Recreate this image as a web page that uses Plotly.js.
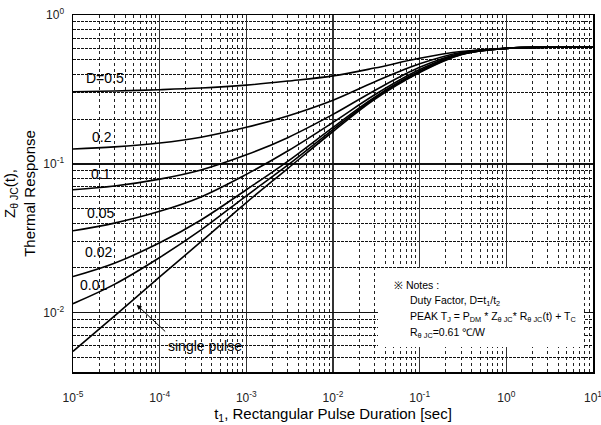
<!DOCTYPE html>
<html>
<head>
<meta charset="utf-8">
<script src="https://cdn.plot.ly/plotly-3.0.1.min.js"></script>
<style>html,body{margin:0;padding:0;background:#fff;}#chart{width:601px;height:425px;}</style>
</head>
<body>
<div id="chart"></div>
<script>
// pulse duration t1 [sec]
const t1 = [1e-5, 3e-5, 1e-4, 3e-4, 1e-3, 3e-3, 1e-2, 3e-2, 1e-1, 3e-1, 1, 3, 10];
// Z_thetaJC(t) for each duty factor
const zD050 = [0.305, 0.309, 0.315, 0.323, 0.338, 0.360, 0.390, 0.440, 0.512, 0.568, 0.598, 0.607, 0.61];
const zD020 = [0.126, 0.130, 0.138, 0.151, 0.176, 0.210, 0.268, 0.355, 0.470, 0.560, 0.598, 0.607, 0.61];
const zD010 = [0.067, 0.071, 0.079, 0.091, 0.115, 0.150, 0.215, 0.310, 0.445, 0.553, 0.597, 0.607, 0.61];
const zD005 = [0.0355, 0.040, 0.048, 0.060, 0.085, 0.122, 0.190, 0.290, 0.430, 0.548, 0.597, 0.607, 0.61];
const zD002 = [0.0175, 0.0215, 0.0295, 0.042, 0.067, 0.104, 0.176, 0.280, 0.420, 0.545, 0.597, 0.607, 0.61];
const zD001 = [0.0115, 0.0155, 0.0235, 0.036, 0.061, 0.098, 0.170, 0.275, 0.415, 0.543, 0.597, 0.607, 0.61];
const zSingle = [0.0055, 0.0095, 0.0174, 0.030, 0.055, 0.093, 0.165, 0.270, 0.410, 0.540, 0.597, 0.607, 0.61];

const seriesNames = ["D=0.5", "0.2", "0.1", "0.05", "0.02", "0.01", "single pulse"];
const seriesData = [zD050, zD020, zD010, zD005, zD002, zD001, zSingle];
// label anchor points [t, Z]
const labelT = [2.34e-5, 2.16e-5, 2.1e-5, 2.05e-5, 1.97e-5, 1.72e-5, 3.33e-4];
const labelZ = [0.378, 0.151, 0.0857, 0.0467, 0.0254, 0.0154, 0.00594];

// tick labels
const xTickVals = [1e-5, 1e-4, 1e-3, 1e-2, 1e-1, 1, 10];
const xTickText = ["10<sup>-5</sup>", "10<sup>-4</sup>", "10<sup>-3</sup>", "10<sup>-2</sup>", "10<sup>-1</sup>", "10<sup>0</sup>", "10<sup>1</sup>"];
const yTickVals = [1e-2, 1e-1, 1];
const yTickText = ["10<sup>-2</sup>", "10<sup>-1</sup>", "10<sup>0</sup>"];

const notes = [
  "\u203B Notes :",
  "Duty Factor, D=t<sub>1</sub>/t<sub>2</sub>",
  "PEAK T<sub>J</sub> = P<sub>DM</sub> * Z<sub>\u03B8 JC</sub>* R<sub>\u03B8 JC</sub>(t) + T<sub>C</sub>",
  "R<sub>\u03B8 JC</sub>=0.61 \u2103/W"
];

const FONT = "Arial, 'Liberation Sans', sans-serif";

const traces = seriesData.map((z, i) => ({
  x: t1, y: z, type: "scatter", mode: "lines", name: seriesNames[i],
  line: {color: "#000", width: 1.6, shape: "spline", smoothing: 1},
  hoverinfo: "skip"
}));

const annotations = seriesNames.map((s, i) => ({
  x: Math.log10(labelT[i]), y: Math.log10(labelZ[i]), xref: "x", yref: "y",
  text: s, showarrow: false, font: {family: FONT, size: 14, color: "#000"}
}));
// arrow to single pulse curve
annotations.push({
  x: Math.log10(5.43e-5), y: Math.log10(0.0113), xref: "x", yref: "y",
  ax: 30, ay: 28, text: "", showarrow: true, arrowhead: 2, arrowsize: 1,
  arrowwidth: 1, arrowcolor: "#000"
});
const notesX = [0.6135, 0.644, 0.644, 0.644];
const notesY = [0.2437, 0.199, 0.154, 0.109];
notes.forEach((n, i) => annotations.push({
  x: notesX[i], y: notesY[i], xref: "paper", yref: "paper", xanchor: "left", yanchor: "middle",
  text: n, showarrow: false, font: {family: FONT, size: 10.5, color: "#000"}
}));

const layout = {
  width: 601, height: 425,
  margin: {l: 73, r: 8, t: 15, b: 53},
  paper_bgcolor: "#fff", plot_bgcolor: "#fff",
  showlegend: false,
  font: {family: FONT, color: "#000"},
  xaxis: {
    type: "log", range: [-5, 1], tickmode: "array", tickvals: xTickVals, ticktext: xTickText,
    ticklabeloverflow: "allow",
    showline: true, mirror: true, linecolor: "#000", linewidth: 1.5,
    ticks: "", ticklabelstandoff: 14, showgrid: true, gridcolor: "#333", gridwidth: 1.5,
    tickfont: {family: FONT, size: 12, color: "#222"},
    minor: {dtick: "D1", showgrid: true, gridcolor: "#222", gridwidth: 1, griddash: "dot"},
    zeroline: false,
    title: {text: "t<sub>1</sub>, Rectangular Pulse Duration [sec]", font: {family: FONT, size: 15, color: "#000"}, standoff: 0}
  },
  yaxis: {
    type: "log", range: [-2.398, 0], tickmode: "array", tickvals: yTickVals, ticktext: yTickText,
    ticklabeloverflow: "allow",
    showline: true, mirror: true, linecolor: "#000", linewidth: 1.5,
    ticks: "", ticklabelstandoff: 5, showgrid: true, gridcolor: "#111", gridwidth: 1.3,
    tickfont: {family: FONT, size: 12, color: "#222"},
    minor: {dtick: "D1", showgrid: true, gridcolor: "#111", gridwidth: 1, griddash: "3px,1px"},
    zeroline: false,
    title: {text: "Z<sub>\u03B8 JC</sub>(t),<br>Thermal Response", font: {family: FONT, size: 15, color: "#000"}, standoff: 4}
  },
  shapes: [{
    type: "rect", xref: "paper", yref: "paper", x0: 0.5865, x1: 0.9827, y0: 0.070, y1: 0.2913,
    fillcolor: "#fff", line: {width: 0}, layer: "above"
  }],
  annotations: annotations
};

Plotly.newPlot("chart", traces, layout, {displayModeBar: false, staticPlot: true});
</script>
</body>
</html>
